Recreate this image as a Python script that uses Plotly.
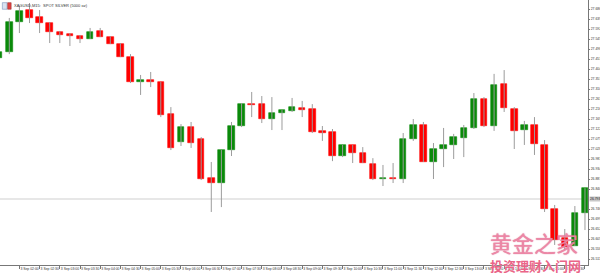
import plotly.graph_objects as go

# M15 candles, 3 Sep 2020 01:30 .. 16:00
opens = [27.456, 27.484, 27.625, 27.681, 27.648, 27.620, 27.578, 27.569, 27.559, 27.545,
         27.583, 27.554, 27.521, 27.460, 27.343, 27.350, 27.343, 27.193, 27.061, 27.131,
         27.075, 26.891, 26.868, 27.023, 27.136, 27.239, 27.239, 27.169, 27.197, 27.207,
         27.221, 27.216, 27.113, 27.108, 26.995, 27.047, 27.009, 26.957, 26.887, 26.891,
         26.887, 27.075, 27.141, 26.967, 27.028, 27.047, 27.080, 27.127, 27.263, 27.136,
         27.333, 27.216, 27.117, 27.141, 27.047, 26.746, 26.610, 26.572, 26.727]
highs = [27.493, 27.644, 27.700, 27.714, 27.681, 27.625, 27.583, 27.573, 27.564, 27.597,
         27.597, 27.559, 27.526, 27.474, 27.376, 27.390, 27.343, 27.225, 27.145, 27.155,
         27.084, 26.967, 27.023, 27.155, 27.244, 27.296, 27.277, 27.272, 27.211, 27.268,
         27.254, 27.239, 27.136, 27.122, 27.047, 27.047, 27.037, 26.985, 26.953, 26.962,
         27.103, 27.169, 27.155, 27.056, 27.127, 27.099, 27.141, 27.291, 27.272, 27.381,
         27.399, 27.225, 27.160, 27.178, 27.070, 26.765, 26.652, 26.760, 26.844]
lows = [27.446, 27.474, 27.573, 27.620, 27.573, 27.526, 27.526, 27.512, 27.526, 27.545,
        27.554, 27.521, 27.460, 27.338, 27.282, 27.319, 27.178, 27.023, 27.042, 27.033,
        26.882, 26.732, 26.755, 26.995, 27.131, 27.178, 27.150, 27.117, 27.117, 27.202,
        27.178, 27.103, 27.066, 26.971, 26.990, 26.962, 26.962, 26.882, 26.854, 26.868,
        26.868, 27.066, 26.967, 26.887, 26.943, 26.981, 26.990, 27.122, 27.131, 27.113,
        27.202, 27.028, 27.047, 27.000, 26.732, 26.577, 26.553, 26.572, 26.647]
closes = [27.484, 27.625, 27.677, 27.644, 27.620, 27.578, 27.564, 27.559, 27.545, 27.578,
          27.554, 27.521, 27.460, 27.343, 27.352, 27.345, 27.188, 27.033, 27.131, 27.056,
          26.887, 26.868, 27.023, 27.136, 27.239, 27.235, 27.169, 27.197, 27.211, 27.225,
          27.211, 27.108, 27.103, 26.995, 27.047, 27.009, 26.962, 26.887, 26.891, 26.887,
          27.075, 27.141, 26.967, 27.028, 27.047, 27.084, 27.127, 27.263, 27.136, 27.329,
          27.221, 27.113, 27.141, 27.052, 26.746, 26.600, 26.567, 26.727, 26.844]

# time labels every second bar (30 min)
time_labels = ["3 Sep 2020"] + ["3 Sep %02d:%02d" % (h, m) for h in range(2, 17) for m in (0, 30)][:-1]
price_ticks = [27.686, 27.639, 27.592, 27.545, 27.498, 27.451, 27.404, 27.357, 27.310,
               27.263, 27.216, 27.169, 27.122, 27.075, 27.028, 26.981, 26.934, 26.887,
               26.840, 26.746, 26.699, 26.652, 26.605, 26.558, 26.511]
ask_line = 26.793
title_text = "XAGUSD,M15:  SPOT SILVER (5000 oz)"

n = len(opens)
xs = list(range(n))
GREEN = "#0a8a0a"
RED = "#ff0000"
FS = 3.4

fig = go.Figure()

# wicks
wx, wy = [], []
for i in xs:
    wx += [i, i, None]
    wy += [lows[i], highs[i], None]
fig.add_trace(go.Scatter(x=wx, y=wy, mode="lines", line=dict(color="#9c9c9c", width=1),
                         hoverinfo="skip", showlegend=False))

# bodies
bases = [min(o, c) for o, c in zip(opens, closes)]
heights = [max(abs(c - o), 0.0012) for o, c in zip(opens, closes)]
cols = [GREEN if c >= o else RED for o, c in zip(opens, closes)]
fig.add_trace(go.Bar(x=xs, y=heights, base=bases, width=0.64,
                     marker=dict(color=cols, line=dict(color=cols, width=0.6)),
                     showlegend=False, hoverinfo="skip"))

fig.add_shape(type="line", xref="paper", x0=0, x1=1, yref="y", y0=ask_line, y1=ask_line,
              line=dict(color="#cfcfcf", width=1), layer="below")

fig.add_annotation(xref="paper", x=1.0, xanchor="left", yref="y", y=ask_line, yanchor="middle",
                   text="%.3f" % ask_line, showarrow=False, bgcolor="#c8c8c8",
                   font=dict(size=FS, color="#222", family="Arial"), borderpad=0, xshift=1)

fig.add_annotation(xref="paper", yref="paper", x=0.0, y=1.0, xshift=12, yshift=-1,
                   xanchor="left", yanchor="top", text=title_text, showarrow=False,
                   font=dict(size=4, color="#333", family="Arial"))
fig.add_shape(type="rect", xref="paper", yref="paper", x0=0.004, x1=0.012, y0=0.965, y1=0.99,
              fillcolor="#d9e2f0", line=dict(color="#6680b0", width=0.5))
fig.add_shape(type="rect", xref="paper", yref="paper", x0=0.013, x1=0.019, y0=0.965, y1=0.99,
              fillcolor="#e04040", line=dict(color="#903030", width=0.5))

# watermark
fig.add_annotation(xref="paper", yref="paper", x=534/588, y=1 - 242/265, xanchor="center",
                   yanchor="middle", text="黄金之家", showarrow=False,
                   font=dict(size=22, color="rgba(240,140,170,0.85)", family="Noto Sans CJK SC",
                             shadow="0px 0px 1px #d04070"))
fig.add_annotation(xref="paper", yref="paper", x=535/588, y=1 - 265/265, xanchor="center",
                   yanchor="middle", text="<b>投资理财入门网</b>", showarrow=False,
                   font=dict(size=13, color="rgba(232,80,120,0.9)", family="Noto Sans CJK SC",
                             shadow="0px 0px 1px white"))

fig.update_layout(
    width=600, height=277, margin=dict(l=0, r=12, t=0, b=12, autoexpand=False),
    paper_bgcolor="white", plot_bgcolor="white", bargap=0,
    xaxis=dict(range=[0.079, 58.3], tickmode="array", tickvals=xs[::2], ticktext=time_labels,
               tickangle=0, automargin=False,
               ticklabelposition="outside right", ticks="outside", ticklen=3, tickcolor="#777",
               showline=True, linecolor="#777", linewidth=1, showgrid=False, zeroline=False,
               tickfont=dict(size=FS, color="#333", family="Arial"), fixedrange=True),
    yaxis=dict(range=[26.4828, 27.7283], side="right", tickmode="array", tickvals=price_ticks,
               automargin=False, ticklabelstandoff=0,
               ticktext=["%.3f" % v for v in price_ticks], ticks="outside", ticklen=1,
               tickcolor="#777", showline=True, linecolor="#777", linewidth=1, showgrid=False,
               zeroline=False, tickfont=dict(size=FS, color="#333", family="Arial")),
)

fig.write_html("out.html")
